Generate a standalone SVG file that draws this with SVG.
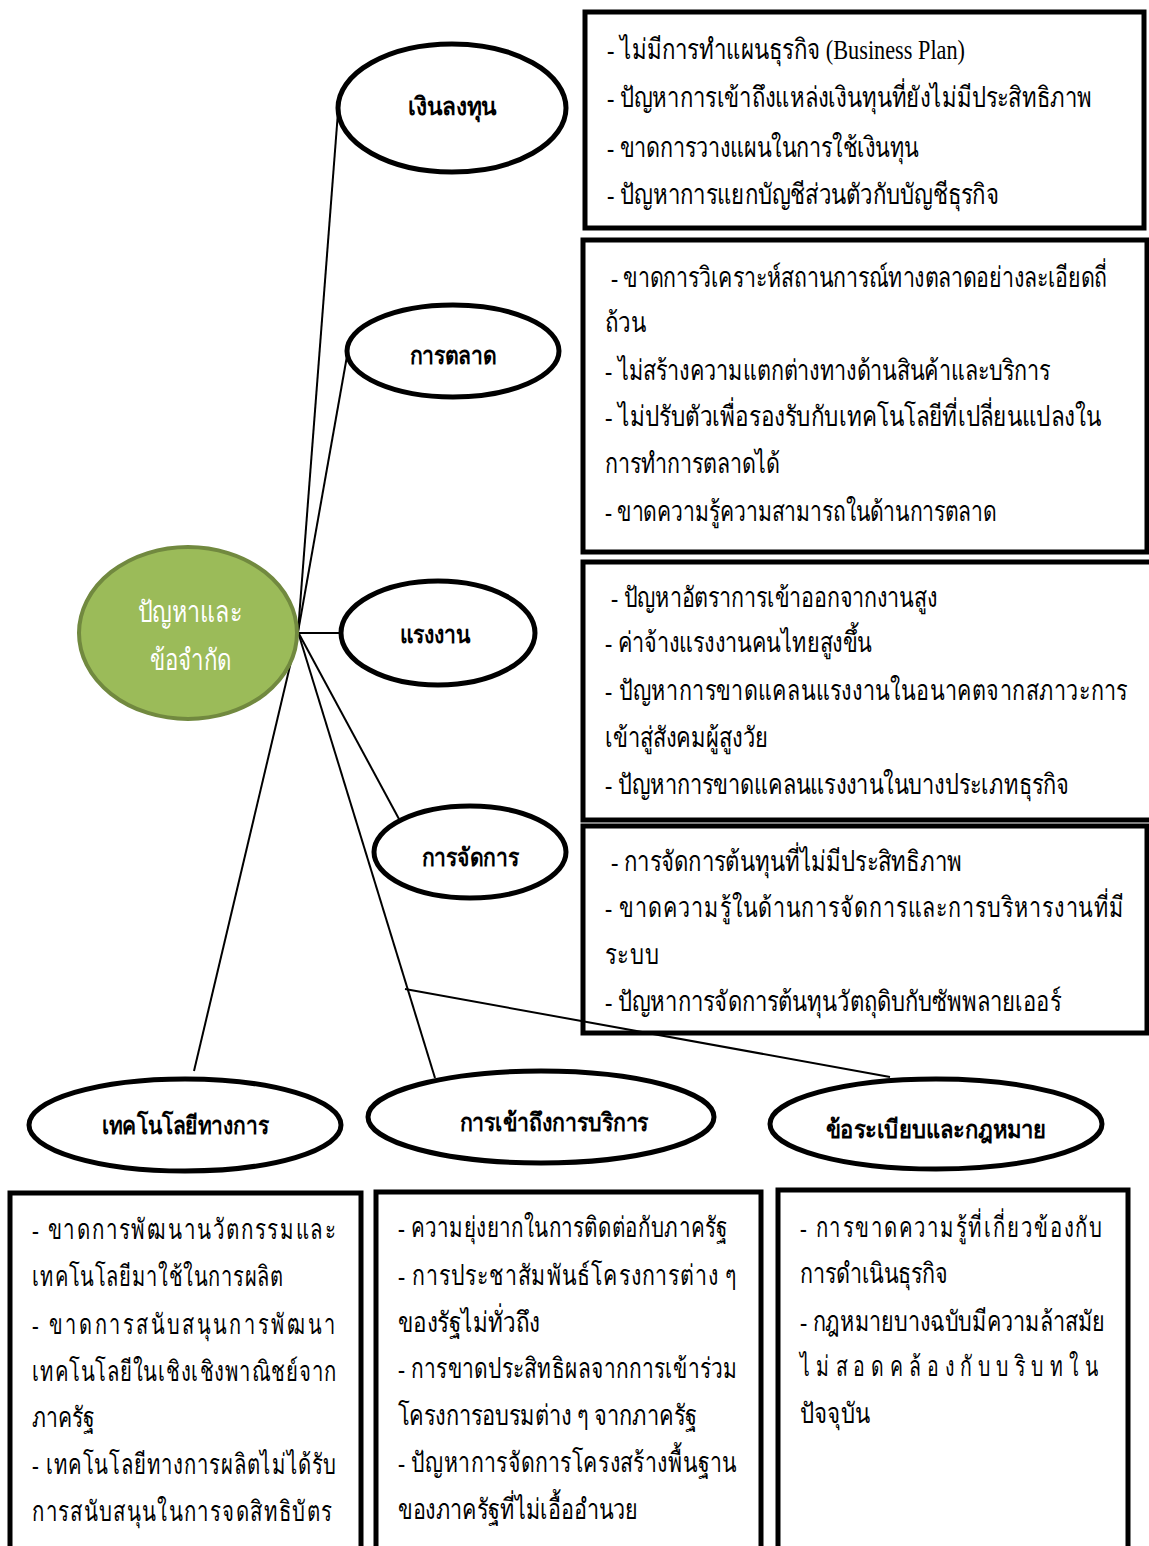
<svg xmlns="http://www.w3.org/2000/svg" width="1149" height="1546" viewBox="0 0 1149 1546">
<style>
.t{font-family:"Liberation Serif","DejaVu Serif",serif;font-size:22px;fill:#000}
.h{font-family:"Liberation Serif","DejaVu Serif",serif;font-size:25px;font-weight:bold;fill:#000;text-anchor:middle}
.c{font-family:"Liberation Serif","DejaVu Serif",serif;font-size:29px;fill:#fff;text-anchor:middle}
.box{fill:none;stroke:#000;stroke-width:5}
.ell{fill:#fff;stroke:#000;stroke-width:5}
.con{stroke:#000;stroke-width:2;fill:none}
</style>
<rect width="1149" height="1546" fill="#fff"/>

<g id="box-investment">
<rect class="box" x="585" y="12" width="559" height="216"/>
<text class="t" transform="translate(607 59) scale(1 1.27)" textLength="358" lengthAdjust="spacingAndGlyphs">- ไม่มีการทำแผนธุรกิจ (Business Plan)</text>
<text class="t" transform="translate(607 107) scale(1 1.27)" textLength="485" lengthAdjust="spacingAndGlyphs">- ปัญหาการเข้าถึงแหล่งเงินทุนที่ยังไม่มีประสิทธิภาพ</text>
<text class="t" transform="translate(607 157) scale(1 1.27)" textLength="312" lengthAdjust="spacingAndGlyphs">- ขาดการวางแผนในการใช้เงินทุน</text>
<text class="t" transform="translate(607 204) scale(1 1.27)" textLength="392" lengthAdjust="spacingAndGlyphs">- ปัญหาการแยกบัญชีส่วนตัวกับบัญชีธุรกิจ</text>
</g>

<g id="box-marketing">
<rect class="box" x="583" y="240" width="564" height="312"/>
<text class="t" transform="translate(611 287) scale(1 1.27)" textLength="496" lengthAdjust="spacingAndGlyphs">- ขาดการวิเคราะห์สถานการณ์ทางตลาดอย่างละเอียดถี่</text>
<text class="t" transform="translate(605 332) scale(1 1.27)" textLength="41" lengthAdjust="spacingAndGlyphs">ถ้วน</text>
<text class="t" transform="translate(605 380) scale(1 1.27)" textLength="445" lengthAdjust="spacingAndGlyphs">- ไม่สร้างความแตกต่างทางด้านสินค้าและบริการ</text>
<text class="t" transform="translate(605 426) scale(1 1.27)" textLength="496" lengthAdjust="spacingAndGlyphs">- ไม่ปรับตัวเพื่อรองรับกับเทคโนโลยีที่เปลี่ยนแปลงใน</text>
<text class="t" transform="translate(605 473) scale(1 1.27)" textLength="175" lengthAdjust="spacingAndGlyphs">การทำการตลาดได้</text>
<text class="t" transform="translate(605 521) scale(1 1.27)" textLength="391" lengthAdjust="spacingAndGlyphs">- ขาดความรู้ความสามารถในด้านการตลาด</text>
</g>

<g id="box-labour">
<rect class="box" x="583" y="562" width="570" height="258"/>
<text class="t" transform="translate(611 607) scale(1 1.27)" textLength="326" lengthAdjust="spacingAndGlyphs">- ปัญหาอัตราการเข้าออกจากงานสูง</text>
<text class="t" transform="translate(605 652) scale(1 1.27)" textLength="267" lengthAdjust="spacingAndGlyphs">- ค่าจ้างแรงงานคนไทยสูงขึ้น</text>
<text class="t" transform="translate(605 700) scale(1 1.27)" textLength="523" lengthAdjust="spacingAndGlyphs" letter-spacing="0.5">- ปัญหาการขาดแคลนแรงงานในอนาคตจากสภาวะการ</text>
<text class="t" transform="translate(605 747) scale(1 1.27)" textLength="163" lengthAdjust="spacingAndGlyphs">เข้าสู่สังคมผู้สูงวัย</text>
<text class="t" transform="translate(605 794) scale(1 1.27)" textLength="464" lengthAdjust="spacingAndGlyphs">- ปัญหาการขาดแคลนแรงงานในบางประเภทธุรกิจ</text>
</g>

<g id="box-management">
<rect class="box" x="583" y="826" width="564" height="207"/>
<text class="t" transform="translate(611 871) scale(1 1.27)" textLength="351" lengthAdjust="spacingAndGlyphs">- การจัดการต้นทุนที่ไม่มีประสิทธิภาพ</text>
<text class="t" transform="translate(605 917) scale(1 1.27)" textLength="520" lengthAdjust="spacingAndGlyphs" letter-spacing="1">- ขาดความรู้ในด้านการจัดการและการบริหารงานที่มี</text>
<text class="t" transform="translate(605 964) scale(1 1.27)" textLength="55" lengthAdjust="spacingAndGlyphs" letter-spacing="1">ระบบ</text>
<text class="t" transform="translate(605 1011) scale(1 1.27)" textLength="456" lengthAdjust="spacingAndGlyphs">- ปัญหาการจัดการต้นทุนวัตถุดิบกับซัพพลายเออร์</text>
</g>

<g id="box-technology">
<rect class="box" x="10" y="1193" width="351" height="370"/>
<text class="t" transform="translate(32 1239) scale(1 1.27)" textLength="305" lengthAdjust="spacingAndGlyphs" letter-spacing="2">- ขาดการพัฒนานวัตกรรมและ</text>
<text class="t" transform="translate(32 1286) scale(1 1.27)" textLength="252" lengthAdjust="spacingAndGlyphs" letter-spacing="1">เทคโนโลยีมาใช้ในการผลิต</text>
<text class="t" transform="translate(32 1334) scale(1 1.27)" textLength="306" lengthAdjust="spacingAndGlyphs" letter-spacing="3">- ขาดการสนับสนุนการพัฒนา</text>
<text class="t" transform="translate(32 1381) scale(1 1.27)" textLength="305" lengthAdjust="spacingAndGlyphs" letter-spacing="1">เทคโนโลยีในเชิงเชิงพาณิชย์จาก</text>
<text class="t" transform="translate(32 1427) scale(1 1.27)" textLength="63" lengthAdjust="spacingAndGlyphs">ภาครัฐ</text>
<text class="t" transform="translate(32 1474) scale(1 1.27)" textLength="305" lengthAdjust="spacingAndGlyphs" letter-spacing="1">- เทคโนโลยีทางการผลิตไม่ได้รับ</text>
<text class="t" transform="translate(32 1521) scale(1 1.27)" textLength="301" lengthAdjust="spacingAndGlyphs" letter-spacing="1.5">การสนับสนุนในการจดสิทธิบัตร</text>
</g>

<g id="box-access">
<rect class="box" x="376" y="1192" width="385" height="370"/>
<text class="t" transform="translate(398 1237) scale(1 1.27)" textLength="330" lengthAdjust="spacingAndGlyphs" letter-spacing="0.5">- ความยุ่งยากในการติดต่อกับภาครัฐ</text>
<text class="t" transform="translate(398 1285) scale(1 1.27)" textLength="339" lengthAdjust="spacingAndGlyphs" letter-spacing="1">- การประชาสัมพันธ์โครงการต่าง ๆ</text>
<text class="t" transform="translate(398 1332) scale(1 1.27)" textLength="142" lengthAdjust="spacingAndGlyphs">ของรัฐไม่ทั่วถึง</text>
<text class="t" transform="translate(398 1378) scale(1 1.27)" textLength="340" lengthAdjust="spacingAndGlyphs" letter-spacing="0.5">- การขาดประสิทธิผลจากการเข้าร่วม</text>
<text class="t" transform="translate(398 1425) scale(1 1.27)" textLength="299" lengthAdjust="spacingAndGlyphs">โครงการอบรมต่าง ๆ จากภาครัฐ</text>
<text class="t" transform="translate(398 1472) scale(1 1.27)" textLength="339" lengthAdjust="spacingAndGlyphs" letter-spacing="0.5">- ปัญหาการจัดการโครงสร้างพื้นฐาน</text>
<text class="t" transform="translate(398 1519) scale(1 1.27)" textLength="240" lengthAdjust="spacingAndGlyphs">ของภาครัฐที่ไม่เอื้ออำนวย</text>
</g>

<g id="box-regulation">
<rect class="box" x="778" y="1190" width="350" height="372"/>
<text class="t" transform="translate(800 1237) scale(1 1.27)" textLength="304" lengthAdjust="spacingAndGlyphs" letter-spacing="2">- การขาดความรู้ที่เกี่ยวข้องกับ</text>
<text class="t" transform="translate(800 1283) scale(1 1.27)" textLength="148" lengthAdjust="spacingAndGlyphs">การดำเนินธุรกิจ</text>
<text class="t" transform="translate(800 1331) scale(1 1.27)" textLength="305" lengthAdjust="spacingAndGlyphs">- กฎหมายบางฉบับมีความล้าสมัย</text>
<text class="t" transform="translate(800 1376) scale(1 1.27)" textLength="304" lengthAdjust="spacingAndGlyphs" letter-spacing="7">ไม่สอดคล้องกับบริบทใน</text>
<text class="t" transform="translate(800 1423) scale(1 1.27)" textLength="70" lengthAdjust="spacingAndGlyphs">ปัจจุบัน</text>
</g>

<g id="connectors">
<line class="con" x1="298" y1="632" x2="338" y2="112"/>
<line class="con" x1="298" y1="632" x2="347" y2="356"/>
<line class="con" x1="298" y1="633" x2="341" y2="633"/>
<line class="con" x1="298" y1="632" x2="399" y2="819"/>
<line class="con" x1="298" y1="632" x2="435" y2="1078"/>
<line class="con" x1="298" y1="632" x2="194" y2="1071"/>
<line class="con" x1="405" y1="989" x2="890" y2="1077"/>
</g>

<g id="node-center">
<ellipse cx="188" cy="633" rx="109" ry="86" fill="#9BBB59" stroke="#71893F" stroke-width="4"/>
<text class="c" x="190" y="622" textLength="105" lengthAdjust="spacingAndGlyphs">ปัญหาและ</text>
<text class="c" x="191" y="670" textLength="82" lengthAdjust="spacingAndGlyphs">ข้อจำกัด</text>
</g>

<g id="node-investment">
<ellipse class="ell" cx="452" cy="108" rx="114" ry="64"/>
<text class="h" x="452" y="115" textLength="89" lengthAdjust="spacingAndGlyphs">เงินลงทุน</text>
</g>

<g id="node-marketing">
<ellipse class="ell" cx="453" cy="351" rx="106" ry="46"/>
<text class="h" x="453" y="364" textLength="87" lengthAdjust="spacingAndGlyphs">การตลาด</text>
</g>

<g id="node-labour">
<ellipse class="ell" cx="438" cy="633" rx="97" ry="52"/>
<text class="h" x="435" y="643" textLength="71" lengthAdjust="spacingAndGlyphs">แรงงาน</text>
</g>

<g id="node-management">
<ellipse class="ell" cx="470" cy="852" rx="96" ry="46"/>
<text class="h" x="470" y="866" textLength="97" lengthAdjust="spacingAndGlyphs">การจัดการ</text>
</g>

<g id="node-technology">
<ellipse class="ell" cx="185" cy="1125" rx="156" ry="46"/>
<text class="h" x="185" y="1134" textLength="167" lengthAdjust="spacingAndGlyphs">เทคโนโลยีทางการ</text>
</g>

<g id="node-access">
<ellipse class="ell" cx="541" cy="1117" rx="173" ry="46"/>
<text class="h" x="554" y="1131" textLength="189" lengthAdjust="spacingAndGlyphs">การเข้าถึงการบริการ</text>
</g>

<g id="node-regulation">
<ellipse class="ell" cx="936" cy="1124" rx="166" ry="45"/>
<text class="h" x="936" y="1138" textLength="221" lengthAdjust="spacingAndGlyphs">ข้อระเบียบและกฎหมาย</text>
</g>
</svg>
